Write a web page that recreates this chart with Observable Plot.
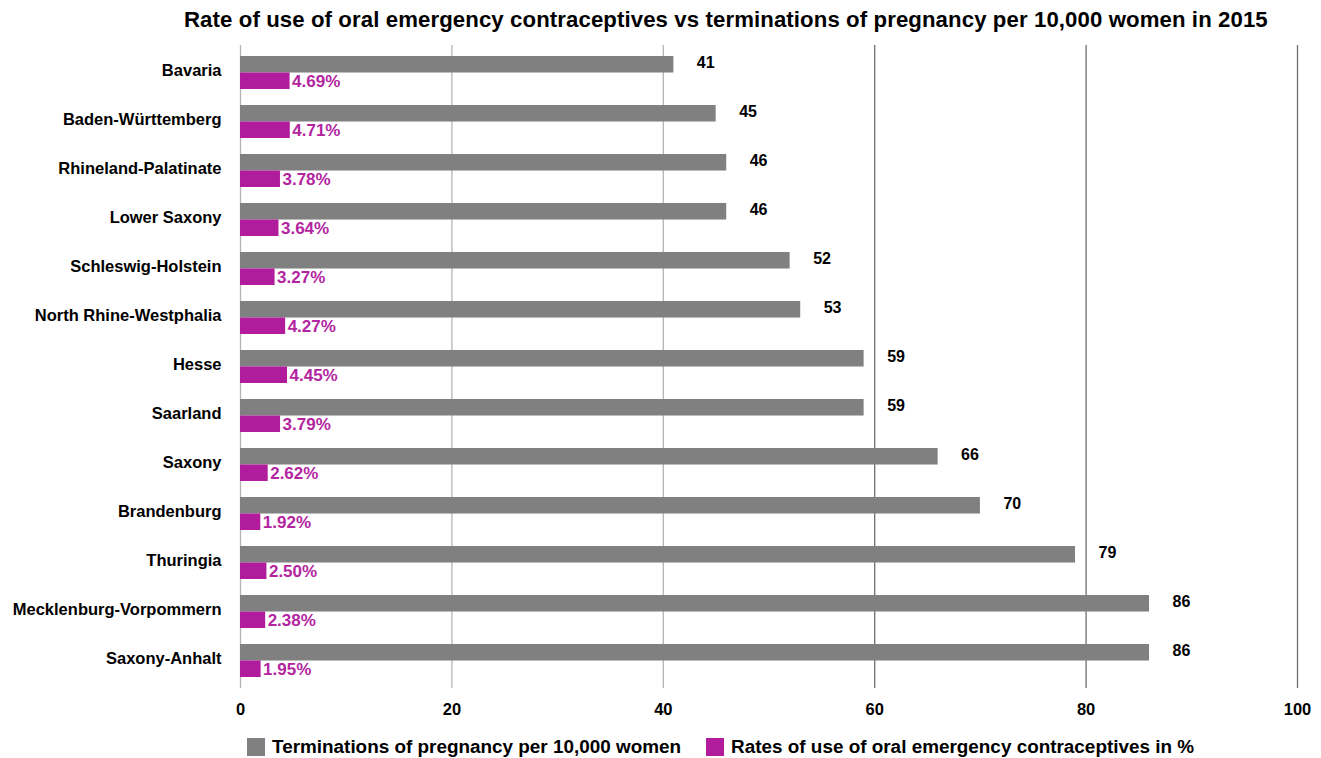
<!DOCTYPE html>
<html>
<head>
<meta charset="utf-8">
<script src="https://cdn.jsdelivr.net/npm/d3@7"></script>
<script src="https://cdn.jsdelivr.net/npm/@observablehq/plot@0.6"></script>
<style>
  html, body { margin: 0; padding: 0; background: #fff; }
  body { width: 1321px; height: 758px; position: relative; overflow: hidden;
         font-family: "Liberation Sans", Arial, Helvetica, sans-serif; font-weight: bold; color: #000; }
  #title { position: absolute; left: 0; width: 1321px; top: 7px; padding-left: 184px; box-sizing: border-box;
           font-size: 22.2px; letter-spacing: 0.1px; line-height: 26px; white-space: nowrap; }
  #chart { position: absolute; left: 0; top: 40px; }
  #legend { position: absolute; top: 737px; left: 247px; display: flex; align-items: center; font-size: 18.9px; line-height: 20px; white-space: nowrap; }
  #legend .item { display: flex; align-items: center; }
  #legend .swatch { width: 18px; height: 18px; margin-right: 7px; }
</style>
</head>
<body>
<div id="title">Rate of use of oral emergency contraceptives vs terminations of pregnancy per 10,000 women in 2015</div>
<div id="chart"></div>
<div id="legend"></div>
<script>
// German federal states, top to bottom
const states = [
  "Bavaria", "Baden-Württemberg", "Rhineland-Palatinate", "Lower Saxony",
  "Schleswig-Holstein", "North Rhine-Westphalia", "Hesse", "Saarland",
  "Saxony", "Brandenburg", "Thuringia", "Mecklenburg-Vorpommern", "Saxony-Anhalt"
];
// Terminations of pregnancy per 10,000 women
const terminations = [41, 45, 46, 46, 52, 53, 59, 59, 66, 70, 79, 86, 86];
// Rates of use of oral emergency contraceptives, in %
const ecRates = [4.69, 4.71, 3.78, 3.64, 3.27, 4.27, 4.45, 3.79, 2.62, 1.92, 2.50, 2.38, 1.95];
// x-axis ticks
const xTicks = [0, 20, 40, 60, 80, 100];
const seriesNames = [
  "Terminations of pregnancy per 10,000 women",
  "Rates of use of oral emergency contraceptives in %"
];

const GRAY = "#808080";
const PURPLE = "#b01c9c";
const PURPLE_TEXT = "#b3259f";

const rows = states.map((state, i) => ({ state, terminations: terminations[i], ec: ecRates[i] }));

const H = 685, MT = 5, MB = 37;
const nStates = states.length;
const pIn = 0.33, pOut = 0.2;
const step = (H - MT - MB) / (nStates - pIn + 2 * pOut);
const half = step * (1 - pIn) / 2;

const chart = Plot.plot({
  width: 1321,
  height: H,
  marginLeft: 240,
  marginRight: 24,
  marginTop: MT,
  marginBottom: MB,
  style: { fontFamily: "'Liberation Sans', Arial, sans-serif", fontWeight: "bold", fontSize: "15px", color: "#000", background: "#fff" },
  x: { domain: [0, 100], label: null },
  y: { domain: states, paddingInner: pIn, paddingOuter: pOut, label: null },
  marks: [
    Plot.ruleX(xTicks, { stroke: d => d >= 60 ? "#6e6e6e" : "#b4b4b4", strokeWidth: 1.3 }),
    Plot.barX(rows, { y: "state", x: "terminations", fill: GRAY, insetBottom: half }),
    Plot.barX(rows, { y: "state", x: "ec", fill: PURPLE, insetTop: half }),
    Plot.text(rows, { y: "state", x: "terminations", text: d => String(d.terminations),
      dx: 23, dy: -half / 2 - 1.5, textAnchor: "start", fill: "#000", fontSize: 16, fontWeight: "bold" }),
    Plot.text(rows, { y: "state", x: "ec", text: d => d.ec.toFixed(2) + "%",
      dx: 2, dy: half / 2, textAnchor: "start", fill: PURPLE_TEXT, fontSize: 17, fontWeight: "bold" }),
    Plot.axisY({ tickSize: 0, tickPadding: 19, dy: -2, fontSize: 16.5, fontWeight: "bold", label: null }),
    Plot.axisX({ ticks: xTicks, tickSize: 0, tickPadding: 15, fontSize: 16.5, fontWeight: "bold", label: null })
  ]
});
document.getElementById("chart").appendChild(chart);

// legend below the chart
const legend = document.getElementById("legend");
[[seriesNames[0], GRAY, 0], [seriesNames[1], PURPLE, 25]].forEach(([name, color, gap]) => {
  const item = document.createElement("div");
  item.className = "item";
  item.style.marginLeft = gap + "px";
  const sw = document.createElement("div");
  sw.className = "swatch";
  sw.style.background = color;
  const label = document.createElement("span");
  label.textContent = name;
  item.appendChild(sw);
  item.appendChild(label);
  legend.appendChild(item);
});
</script>
</body>
</html>
